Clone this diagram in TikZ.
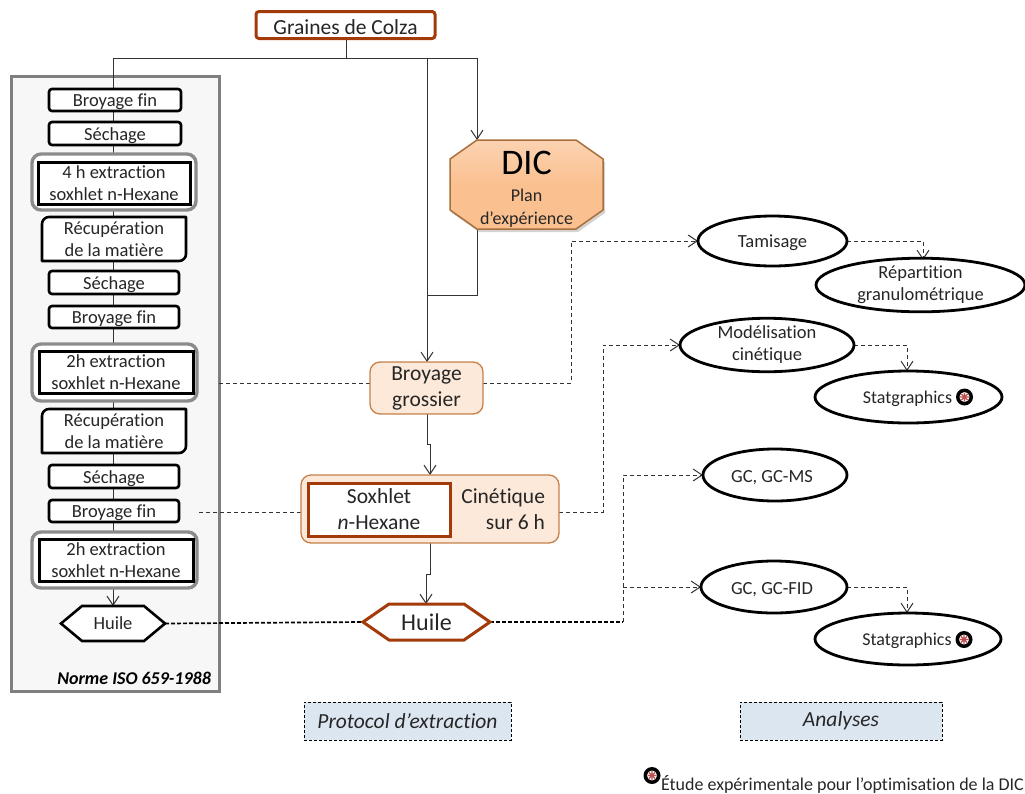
\documentclass[tikz,border=0pt]{standalone}
\usepackage{fontspec}
\setmainfont[Ligatures=NoCommon]{Carlito}
\usetikzlibrary{arrows.meta,shapes.geometric,shadows}
\definecolor{brownb}{HTML}{A33A0A}
\definecolor{peach}{HTML}{FDE9D9}
\definecolor{peachb}{HTML}{C5804A}
\definecolor{dicb}{HTML}{A8703C}
\definecolor{dicf}{HTML}{FAC090}
\definecolor{panelb}{HTML}{7F7F7F}
\definecolor{panelf}{HTML}{F7F7F7}
\definecolor{bluef}{HTML}{DCE6F1}
\definecolor{ink}{HTML}{262626}
\definecolor{lin}{HTML}{333333}
\definecolor{iconr}{HTML}{C0504D}
\pgfdeclarelayer{panelL}\pgfdeclarelayer{back}\pgfdeclarelayer{shapesL}
\pgfsetlayers{panelL,back,shapesL,main}
\newcommand\fs[2]{\fontsize{#1}{#2}\selectfont}
\newcommand\polyhex[3]{% node, chamfer, style
  \begin{pgfonlayer}{shapesL}
  \draw[#3] (#1.west) -- ([xshift=#2pt]#1.north west) -- ([xshift=-#2pt]#1.north east) -- (#1.east)
    -- ([xshift=-#2pt]#1.south east) -- ([xshift=#2pt]#1.south west) -- cycle;
  \end{pgfonlayer}}
\tikzset{
  x=1pt,y=-1pt,
  >={Straight Barb[length=9pt,width=12pt]},
  every node/.style={inner sep=0pt,outer sep=0pt,text=ink,align=center},
  sz/.style 2 args={minimum width=#1,minimum height=#2},
  low/.style={execute at begin node={\rule{0pt}{#1}}},
  stepbox/.style={draw=black,line width=2.6pt,fill=white,rounded corners=3pt,font=\fs{18.5}{22},low=17pt},
  outerbox/.style={draw=panelb!90,line width=3.4pt,fill=white,rounded corners=9pt},
  innerbox/.style={draw=black,line width=3pt,fill=white,font=\fs{18.5}{22},low=16pt},
  recupbox/.style={fill=white,font=\fs{18.5}{22},low=16pt},
  oval/.style={ellipse,draw=black,line width=2.8pt,fill=white,font=\fs{18.5}{22},low=17pt},
  flow/.style={draw=lin,line width=1pt},
  dashline/.style={draw=lin,line width=1pt,dash pattern=on 4pt off 3pt},
  thickdash/.style={draw=black,line width=1.7pt,dash pattern=on 4pt off 2pt},
  soft/.style={draw=peachb,line width=1.3pt,fill=peach,rounded corners=10pt},
  legendbox/.style={draw=black,line width=.9pt,dash pattern=on 3pt off 2pt,fill=bluef,font=\fs{21.5}{24}\itshape},
  staticon/.pic={
    \fill[black] (0,0) circle[radius=8.5];
    \fill[white] (0,0) circle[radius=5];
    \draw[iconr,line width=1.1pt] (-4.5,0)--(4.5,0) (0,-4.5)--(0,4.5) (-3.2,-3.2)--(3.2,3.2) (-3.2,3.2)--(3.2,-3.2);
  },
}
\begin{document}
\begin{tikzpicture}
\useasboundingbox (0,0) rectangle (1025,793);
% top
\node[draw=brownb,line width=3pt,fill=white,rounded corners=3pt,sz={179pt}{27pt},font=\fs{21.5}{24},low=19pt] (graines) at (345.5,25) {Graines de Colza};
% panel
\begin{pgfonlayer}{panelL}
\node[draw=panelb,line width=3pt,fill=panelf,sz={208pt}{615pt}] (panel) at (115,383.5) {};
\end{pgfonlayer}
\node[anchor=east,font=\fs{18}{20}\bfseries\itshape,text=black] (norme) at (211,678) {Norme ISO 659-1988};
% column
\node[stepbox,sz={132pt}{22pt}] (b1) at (115,100) {Broyage fin};
\node[stepbox,sz={132pt}{23pt}] (s1) at (115,133.5) {Séchage};
\node[outerbox,sz={164pt}{56pt}] (o1) at (114,182) {};
\node[innerbox,sz={152pt}{42pt}] (e1) at (114,183) {4 h extraction\\soxhlet n-Hexane};
\node[recupbox,sz={144pt}{44pt}] (r1) at (114,239) {Récupération\\de la matière};
\node[stepbox,sz={130pt}{23pt}] (s2) at (114,282.5) {Séchage};
\node[stepbox,sz={130pt}{22pt}] (b2) at (114,317) {Broyage fin};
\node[outerbox,sz={165pt}{57pt}] (o2) at (114.5,372.5) {};
\node[innerbox,sz={154pt}{42pt}] (e2) at (116,372) {2h extraction\\soxhlet n-Hexane};
\node[recupbox,sz={144pt}{44pt}] (r2) at (114,431) {Récupération\\de la matière};
\node[stepbox,sz={130pt}{23pt}] (s3) at (114,476.5) {Séchage};
\node[stepbox,sz={130pt}{22pt}] (b3) at (114,511) {Broyage fin};
\node[outerbox,sz={165pt}{56pt}] (o3) at (114.5,560) {};
\node[innerbox,sz={154pt}{42pt}] (e3) at (116,560) {2h extraction\\soxhlet n-Hexane};
\node[sz={104pt}{35pt},font=\fs{18.5}{22}] (h1) at (113,623.5) {Huile};
\polyhex{h1}{21}{draw=black,line width=2.6pt,fill=white,line join=miter}
\foreach \n in {r1,r2}{
  \draw[black,line width=2.6pt,line join=round]
    (\n.south west) [rounded corners=7pt] -- (\n.north west) [sharp corners] -- (\n.north east)
    [rounded corners=7pt] -- (\n.south east) [sharp corners] -- (\n.south west) -- cycle;
}
% centre
\node[sz={153pt}{89pt}] (dic) at (526.5,184.5) {};
\begin{pgfonlayer}{shapesL}
\draw[draw=dicb,line width=1.5pt,top color=dicf!70,bottom color=dicf,middle color=dicf,
  drop shadow={opacity=.35,shadow xshift=2pt,shadow yshift=-3pt}]
  ([yshift=-19pt]dic.north west) -- ([xshift=27pt]dic.north west) -- ([xshift=-27pt]dic.north east)
  -- ([yshift=-19pt]dic.north east) -- ([yshift=19pt]dic.south east) -- ([xshift=-27pt]dic.south east)
  -- ([xshift=27pt]dic.south west) -- ([yshift=19pt]dic.south west) -- cycle;
\end{pgfonlayer}
\node[font=\fs{36}{40},text=black] (dict) at (526.5,163) {DIC};
\node[font=\fs{18}{23}] (dicp) at (526.5,208) {Plan\\d’expérience};
\node[soft,sz={113pt}{52pt},font=\fs{21.5}{26},low=20pt] (bg) at (426.5,388) {Broyage\\grossier};
\node[soft,sz={258pt}{68pt}] (cin) at (430,509) {};
\node[draw=brownb,line width=3pt,fill=white,sz={142pt}{53pt},font=\fs{21.5}{26}] (sox) at (379,509.5) {Soxhlet\\\textit{n}-Hexane};
\node[anchor=east,align=right,font=\fs{21.5}{26}] (cint) at (545,509.5) {Cinétique\\sur 6 h};
\node[sz={127pt}{36pt},font=\fs{24}{26}] (h2) at (426.5,622) {Huile};
\polyhex{h2}{26}{draw=brownb,line width=3pt,fill=white,line join=miter}
% ovals
\node[oval,sz={149pt}{50pt}] (tam) at (772.5,241) {Tamisage};
\node[oval,sz={209pt}{50pt}] (rep) at (920.5,285) {Répartition\\granulométrique};
\node[oval,sz={174pt}{50pt}] (mod) at (767,345) {Modélisation\\cinétique};
\node[oval,sz={187pt}{52pt}] (st1) at (908.5,397) {\fs{18}{22}Statgraphics\hspace{2pt}};
\node[oval,sz={144pt}{52pt}] (ms) at (775,475) {GC, GC-MS\hspace{6pt}};
\node[oval,sz={146pt}{52pt}] (fid) at (774,587) {GC, GC-FID\hspace{4pt}};
\node[oval,sz={186pt}{52pt}] (st2) at (908,639) {\fs{18}{22}Statgraphics\hspace{2pt}};
\pic at (964.5,397) {staticon};
\pic at (964,639.5) {staticon};
% legends
\node[legendbox,sz={207pt}{38pt}] (l1) at (407.5,721) {Protocol d’extraction};
\node[legendbox,sz={202pt}{38pt}] (l2) at (841,721) {Analyses};
\pic at (652,775.5) {staticon};
\node[anchor=west,font=\fs{18}{20}] (foot) at (661,784) {Étude expérimentale pour l’optimisation de la DIC};
% helper points
\coordinate (j1) at (346,58);
\coordinate (tr) at (113,58);
\coordinate (jc) at (427,58);
\coordinate (jd) at (477,58);
\coordinate (dicin) at (477,140);
\coordinate (dicout) at (477,229);
\coordinate (jr) at (427,295);
\coordinate (k1) at (427,444);
\coordinate (k2) at (430,444);
\coordinate (k3) at (430,574);
\coordinate (k4) at (426,574);
\coordinate (d1) at (370,383);
\coordinate (d2) at (483,383);
\coordinate (d3) at (571,383);
\coordinate (d4) at (301,512);
\coordinate (d5) at (199,512);
\coordinate (d6) at (559,512);
\coordinate (d7) at (603,512);
\coordinate (d8) at (623,622);
\coordinate (d9) at (623,587);
\coordinate (a1) at (923,260);
\coordinate (a2) at (907,371);
\coordinate (a3) at (907,613);
\begin{pgfonlayer}{back}
\draw[flow] (graines.south -| j1) -- (j1);
\draw[flow] (tr) -- (jd);
\draw[flow] (tr) -- (b1.north -| tr);
\foreach \a/\b in {b1/s1,s1/o1,o1/r1,r1/s2,s2/b2,b2/o2,o2/r2,r2/s3,s3/b3,b3/o3}
  \draw[flow] (\a.south -| tr) -- (\b.north -| tr);
\draw[flow,->] (o3.south -| tr) -- (h1.north);
\draw[flow,->] (jc) -- (bg.north -| jc);
\draw[flow,->] (jd) -- (dicin);
\draw[flow] (dicout) |- (jr);
\draw[flow] (bg.south -| k1) -- (k1) -- (k2);
\draw[flow,->] (k2) -- (cin.north -| k2);
\draw[flow] (cin.south -| k3) -- (k3) -- (k4);
\draw[flow,->] (k4) -- (h2.north -| k4);
\draw[dashline] (panel.east |- d1) -- (d1);
\draw[dashline,->] (d2) -- (d3) |- (tam.west);
\draw[dashline] (d5) -- (d4);
\draw[dashline,->] (d6) -- (d7) |- (mod.west);
\draw[thickdash] (h1.east) -- (h2.west);
\draw[thickdash] (h2.east) -- (d8);
\draw[dashline,->] (d8) |- (ms.west);
\draw[dashline,->] (d9) -- (fid.west);
\draw[dashline,->] (tam.east) -| (a1);
\draw[dashline,->] (mod.east) -| (a2);
\draw[dashline,->] (fid.east) -| (a3);
\end{pgfonlayer}
\end{tikzpicture}
\end{document}
